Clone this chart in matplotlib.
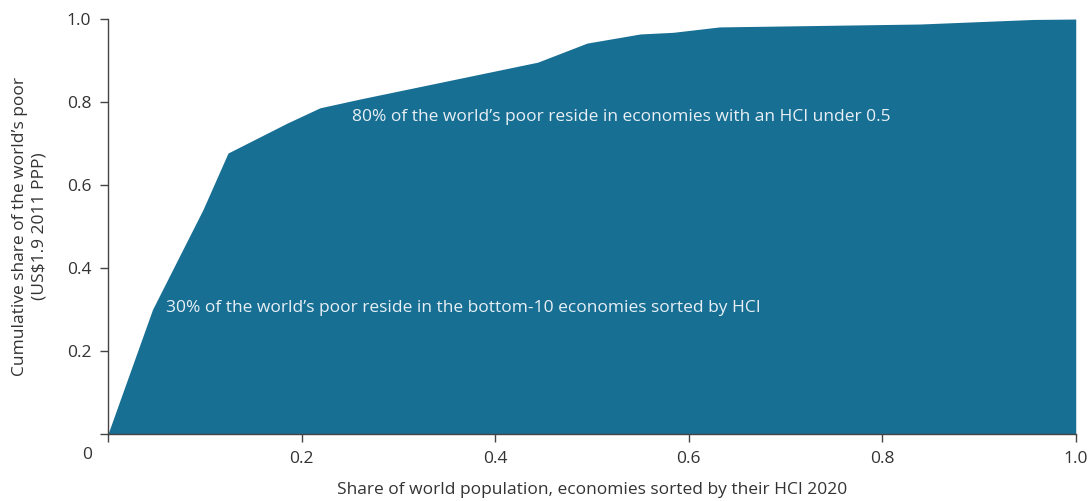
import matplotlib.pyplot as plt

plt.rcParams['font.family'] = ['Open Sans', 'DejaVu Sans']

# cumulative share of world population (sorted by HCI) vs cumulative share of poor
pop_share = [0.0, 0.046, 0.098, 0.124, 0.185, 0.219, 0.26, 0.444, 0.495,
             0.55, 0.584, 0.632, 0.839, 0.956, 1.0]
poor_share = [0.0, 0.30, 0.54, 0.677, 0.749, 0.786, 0.807, 0.896, 0.942,
              0.964, 0.968, 0.981, 0.988, 0.999, 1.0]

xticks = [0, 0.2, 0.4, 0.6, 0.8, 1.0]
xtick_labels = ["", "0.2", "0.4", "0.6", "0.8", "1.0"]
yticks = [0, 0.2, 0.4, 0.6, 0.8, 1.0]
ytick_labels = ["", "0.2", "0.4", "0.6", "0.8", "1.0"]

fill_color = "#186f94"
text_gray = "#333333"
fs = 12.5

fig = plt.figure(figsize=(10.91, 5.01), dpi=100)
ax = fig.add_axes([0.099, 0.134, 0.887, 0.828])

ax.fill_between(pop_share, poor_share, 0, color=fill_color, linewidth=0)

ax.set_xlim(0, 1.0)
ax.set_ylim(0, 1.0)
ax.set_xticks(xticks)
ax.set_xticklabels(xtick_labels)
ax.set_yticks(yticks)
ax.set_yticklabels(ytick_labels)
ax.text(-0.022, -0.05, "0", transform=ax.transAxes, ha="center", va="center",
        fontsize=fs, color=text_gray)

for side in ["top", "right"]:
    ax.spines[side].set_visible(False)
for side in ["left", "bottom"]:
    ax.spines[side].set_color("#444444")
    ax.spines[side].set_linewidth(1.0)
ax.tick_params(axis="both", direction="out", length=6, width=1.0,
               color="#444444", labelsize=fs, labelcolor=text_gray, pad=6)

ax.set_xlabel("Share of world population, economies sorted by their HCI 2020",
              fontsize=fs, color=text_gray, labelpad=11)
ax.set_ylabel("Cumulative share of the world’s poor\n(US$1.9 2011 PPP)",
              fontsize=fs, color=text_gray, labelpad=14, linespacing=1.25)

ax.text(0.252, 0.764, "80% of the world’s poor reside in economies with an HCI under 0.5",
        fontsize=fs, color="#e8f0f5", va="center", ha="left")
ax.text(0.06, 0.304, "30% of the world’s poor reside in the bottom-10 economies sorted by HCI",
        fontsize=fs, color="#e8f0f5", va="center", ha="left")

fig.savefig("out.png", dpi=100)
